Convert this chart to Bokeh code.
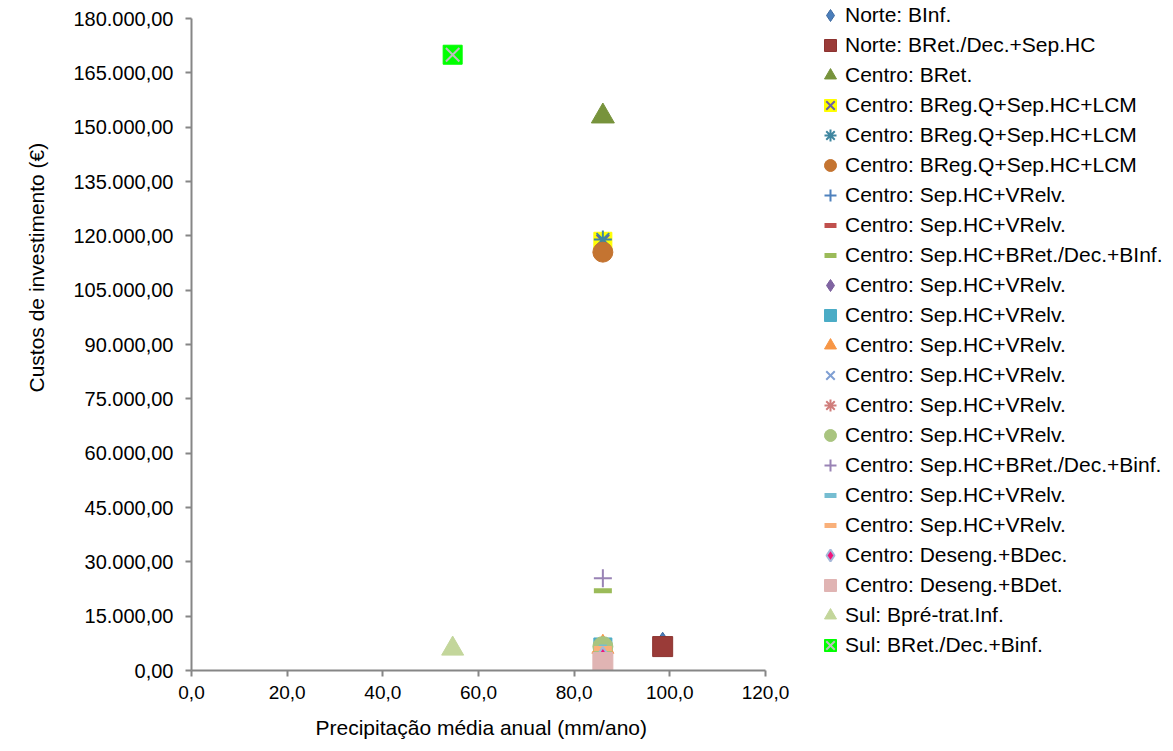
from bokeh.plotting import figure
from bokeh.models import Range1d, FixedTicker, CustomJSTickFormatter, Legend, LegendItem, Title
from bokeh.embed import file_html
from bokeh.resources import INLINE

# ---------------- data ----------------
labels = [
    "Norte: BInf.",
    "Norte: BRet./Dec.+Sep.HC",
    "Centro: BRet.",
    "Centro: BReg.Q+Sep.HC+LCM",
    "Centro: BReg.Q+Sep.HC+LCM",
    "Centro: BReg.Q+Sep.HC+LCM",
    "Centro: Sep.HC+VRelv.",
    "Centro: Sep.HC+VRelv.",
    "Centro: Sep.HC+BRet./Dec.+BInf.",
    "Centro: Sep.HC+VRelv.",
    "Centro: Sep.HC+VRelv.",
    "Centro: Sep.HC+VRelv.",
    "Centro: Sep.HC+VRelv.",
    "Centro: Sep.HC+VRelv.",
    "Centro: Sep.HC+VRelv.",
    "Centro: Sep.HC+BRet./Dec.+Binf.",
    "Centro: Sep.HC+VRelv.",
    "Centro: Sep.HC+VRelv.",
    "Centro: Deseng.+BDec.",
    "Centro: Deseng.+BDet.",
    "Sul: Bpré-trat.Inf.",
    "Sul: BRet./Dec.+Binf.",
]
precip = [98.5, 98.5, 86.0, 86.0, 86.0, 86.0, 86.0, 86.0, 86.0, 86.0, 86.0,
          86.0, 86.0, 86.0, 86.0, 86.0, 86.0, 86.0, 86.0, 86.0, 54.6, 54.6]
custos = [8500, 6600, 153000, 118500, 119000, 115500, 6000, 5500, 22000, 6000, 6500,
          6500, 6000, 6500, 6600, 25500, 6500, 6100, 4800, 2200, 6000, 170000]
x_ticks = [0, 20, 40, 60, 80, 100, 120]
y_ticks = list(range(0, 180001, 15000))
x_title = "Precipitação média anual (mm/ano)"
y_title = "Custos de investimento (€)"

# ---------------- styles ----------------
markers = ["diamond", "square", "triangle", "square", "asterisk", "circle", "cross", "dash",
           "dash", "diamond", "square", "triangle", "x", "asterisk", "circle", "cross",
           "dash", "dash", "diamond", "square", "triangle", "square"]
fills = ["#4A7EBB", "#9A3B38", "#77933C", "#FFFF00", "#4198AF", "#C47431", "#4F81BD", "#C0504D",
         "#9BBB59", "#8064A2", "#4BACC6", "#F79646", "#7F9FD3", "#D07D7B", "#A9C47F", "#9983B5",
         "#76BDD1", "#F9B07A", "#F0147A", "#E0B4B3", "#C3D69B", "#00FF00"]
lines = ["#3F6AA0", "#8C3330", "#77933C", None, "#3F86A0", "#C47431", "#4F81BD", "#C0504D",
         "#9BBB59", "#7B5F9C", "#4BACC6", "#F79646", "#7F9FD3", "#D07D7B", "#A9C47F", "#9983B5",
         "#76BDD1", "#F9B07A", "#A6B7D8", "#E0B4B3", "#C3D69B", None]
sizes = [15, 20, 23, 18, 18, 20, 18, 8, 18, 15, 18, 22, 16, 16, 20, 18, 8, 18, 12, 20, 22, 19]
lwidths = [1, 1, 1, 1, 2, 1, 2, 5, 5, 1, 1, 1, 2, 2, 1, 2, 5, 5, 2, 1, 1, 1]
overlay = {3: ("x", "#6B5FA8"), 21: ("x", "#BFBFBF")}

FONT = "Liberation Sans"

# pixel layout: the plotted axes box is 574 x 652; the frame is extended to the
# right and top so that the legend (drawn inside the frame) is not clipped.
AX_W, AX_H = 574, 652
FR_W, FR_H = 974, 670
X_MAX, Y_MAX = 120.0, 180000.0

p = figure(frame_width=FR_W, frame_height=FR_H, output_backend="svg", toolbar_location=None,
           x_range=Range1d(0, X_MAX * FR_W / AX_W), y_range=Range1d(0, Y_MAX * FR_H / AX_H),
           min_border_left=191, min_border_right=0, min_border_top=0, min_border_bottom=0)
p.outline_line_color = None
p.xgrid.visible = False
p.ygrid.visible = False
p.background_fill_color = "white"
p.border_fill_color = "white"

items = []
for i, lab in enumerate(labels):
    rs = []
    lc = lines[i] if lines[i] is not None else fills[i]
    r = p.scatter([precip[i]], [custos[i]], marker=markers[i], size=sizes[i],
                  fill_color=fills[i], line_color=lc, line_width=lwidths[i])
    rs.append(r)
    if i in overlay:
        m, c = overlay[i]
        r2 = p.scatter([precip[i]], [custos[i]], marker=m, size=sizes[i],
                       line_color=c, line_width=2)
        rs.append(r2)
    items.append(LegendItem(label=lab, renderers=rs))

# axes
p.xaxis.bounds = (0, X_MAX)
p.yaxis.bounds = (0, Y_MAX)
p.xaxis.ticker = FixedTicker(ticks=x_ticks)
p.yaxis.ticker = FixedTicker(ticks=y_ticks)
p.xaxis.formatter = CustomJSTickFormatter(code="return tick.toFixed(1).replace('.', ',');")
p.yaxis.formatter = CustomJSTickFormatter(code=r"""
const parts = tick.toFixed(2).split('.');
parts[0] = parts[0].replace(/\B(?=(\d{3})+(?!\d))/g, '.');
return parts[0] + ',' + parts[1];
""")
for ax in (p.xaxis[0], p.yaxis[0]):
    ax.axis_line_color = "#868686"
    ax.axis_line_width = 2
    ax.major_tick_line_color = "#868686"
    ax.major_tick_line_width = 2
    ax.major_tick_in = 0
    ax.major_tick_out = 6
    ax.minor_tick_line_color = None
    ax.major_label_text_font = FONT
    ax.major_label_text_color = "black"

p.xaxis.major_label_text_font_size = "19px"
p.yaxis.major_label_text_font_size = "20px"
p.xaxis.major_label_standoff = 9
p.yaxis.major_label_standoff = 12

# axis titles (placed as side titles so they can be offset like the original)
xt = Title(text=x_title, align="left", offset=124, standoff=24,
           text_font=FONT, text_font_size="21px", text_font_style="normal", text_color="black")
yt = Title(text=y_title, align="left", offset=278, standoff=45,
           text_font=FONT, text_font_size="21px", text_font_style="normal", text_color="black")
p.add_layout(xt, "below")
p.add_layout(yt, "left")

legend = Legend(items=items, location=(624, 10))
legend.border_line_color = None
legend.background_fill_alpha = 0
legend.padding = 0
legend.margin = 0
legend.spacing = 0
legend.label_standoff = 0
legend.glyph_width = 30
legend.glyph_height = 30
legend.label_height = 30
legend.label_text_font = FONT
legend.label_text_font_size = "21px"
legend.label_text_color = "black"
p.add_layout(legend, "center")

open("out.html", "w").write(file_html(p, INLINE))
